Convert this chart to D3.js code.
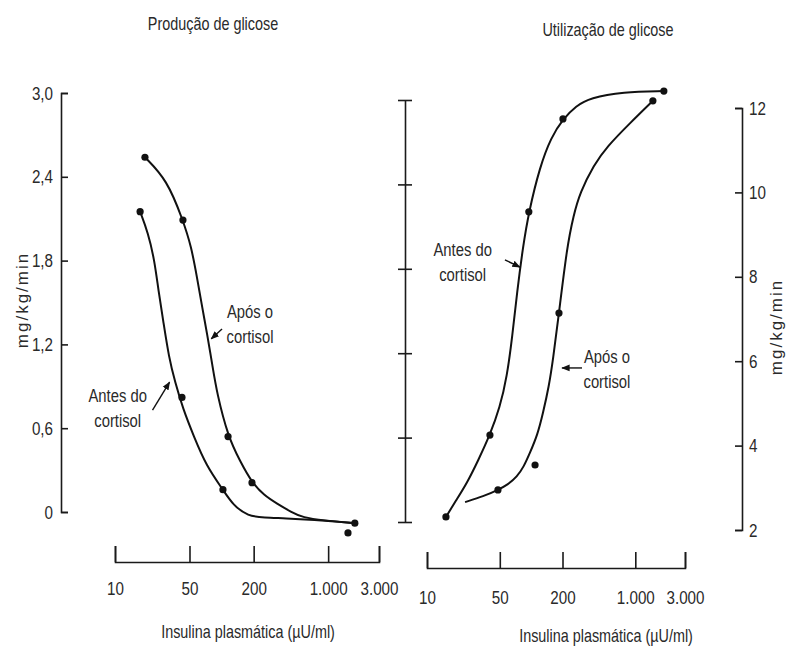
<!DOCTYPE html>
<meta charset="utf-8">
<style>
body {
    margin: 0px;
    background: white;
    overflow: hidden;
}
text {
  font-family: "Liberation Sans", Arial, sans-serif;
  fill: #2a2a2a;
}
.axis path, .axis line {
  stroke: #1a1a1a;
  stroke-width: 1.6px;
}
.curve {
  fill: none;
  stroke: #111;
  stroke-width: 2px;
}
.dot {
  fill: #111;
}
</style>
<body>
<script src="https://d3js.org/d3.v7.min.js"></script>
<script>
var width = 788,
    height = 648;

// ticks of the insulin axis (log)
var xTicks = [10, 50, 200, 1000, 3000];
var xTickLabels = ["10", "50", "200", "1.000", "3.000"];

// Produção de glicose (mg/kg/min)
var prodTicks = [0, 0.6, 1.2, 1.8, 2.4, 3.0];
var prodTickLabels = ["0", "0,6", "1,2", "1,8", "2,4", "3,0"];
var prodAntesPts = [[17.2, 2.15], [42.5, 0.82], [103, 0.16], [1535, -0.15]];
var prodAposPts = [[19.1, 2.54], [43.4, 2.09], [115, 0.54], [193, 0.21], [1780, -0.08]];
var prodAntesCurve = [[17.2, 2.15], [20.4, 2.0], [23.5, 1.8], [25.5, 1.59], [28.6, 1.35],
    [32, 1.11], [36.6, 0.93], [43.4, 0.74], [55, 0.54], [72, 0.33], [103, 0.16], [128, 0.05],
    [177, -0.03], [250, -0.04], [400, -0.045], [700, -0.055], [1780, -0.08]];
var prodAposCurve = [[19.1, 2.54], [30.7, 2.38], [43.4, 2.09], [52, 1.9], [58.8, 1.68],
    [66, 1.46], [73, 1.28], [82, 1.05], [90.5, 0.85], [115, 0.54], [150, 0.36], [193, 0.21],
    [250, 0.12], [331, 0.06], [450, 0.0], [580, -0.04], [900, -0.06], [1780, -0.08]];

// Utilização de glicose (mg/kg/min)
var utilTicks = [2, 4, 6, 8, 10, 12];
var utilAntesPts = [[15.2, 2.31], [40.2, 4.25], [95, 9.54], [202, 11.74], [1880, 12.4]];
var utilAposPts = [[48, 2.95], [109, 3.54], [185, 7.14], [1475, 12.17]];
var utilAntesCurve = [[15.2, 2.31], [19, 2.7], [24.2, 3.11], [31, 3.65], [40.2, 4.25], [50, 4.9],
    [58.6, 5.63], [66, 6.6], [73.1, 7.62], [83.4, 8.71], [95, 9.54], [121, 10.6], [155, 11.3],
    [202, 11.74], [270, 12.05], [367, 12.24], [760, 12.38], [1880, 12.4]];
var utilAposCurve = [[23.2, 2.66], [35, 2.8], [48, 2.95], [60, 3.08], [73, 3.26], [85, 3.5],
    [97, 3.82], [115, 4.25], [130, 4.77], [148, 5.4], [162, 6.03], [185, 7.14], [221, 8.71],
    [255, 9.45], [294, 9.99], [400, 10.65], [533, 11.08], [888, 11.64], [1475, 12.17]];

// middle unlabelled scale
var midTicks = [0, 1, 2, 3, 4, 5];

// curve labels: text, anchor [x, y], arrow tail and tip, in data units
var prodLabels = [
    {lines: ["Após o", "cortisol"], at: [185, 1.39], tail: [101, 1.31], tip: [80, 1.24]},
    {lines: ["Antes do", "cortisol"], at: [10.6, 0.79], tail: [22.5, 0.73], tip: [32.5, 0.93]}
];
var utilLabels = [
    {lines: ["Antes do", "cortisol"], at: [22, 8.5], tail: [56, 8.4], tip: [78, 8.23]},
    {lines: ["Após o", "cortisol"], at: [534, 5.95], tail: [308, 5.84], tip: [198, 5.84]}
];

var svg = d3.select("body").append("svg")
    .attr("width", width)
    .attr("height", height);

svg.append("defs").append("marker")
    .attr("id", "head")
    .attr("viewBox", "0 0 10 10")
    .attr("refX", 9).attr("refY", 5)
    .attr("markerWidth", 6).attr("markerHeight", 6)
    .attr("orient", "auto")
  .append("path")
    .attr("d", "M0,1L10,5L0,9Z")
    .attr("fill", "#111");

var xProd = d3.scaleLog().domain([10, 3000]).range([115, 379]);
var yProd = d3.scaleLinear().domain([0, 3]).range([512, 93]);
var xUtil = d3.scaleLog().domain([10, 3000]).range([427, 685]);
var yUtil = d3.scaleLinear().domain([2, 12]).range([530, 108]);
var yMid = d3.scaleLinear().domain([0, 5]).range([522, 100]);

function fmtX(d) { return xTickLabels[xTicks.indexOf(d)]; }

// the scan uses a narrow face: squeeze text horizontally round its anchor
function condense(sel, k) {
    sel.each(function() {
        var t = d3.select(this),
            x = +t.attr("x") || 0,
            y = +t.attr("y") || 0;
        t.attr("transform", (t.attr("transform") || "") +
            " translate(" + x + "," + y + ") scale(" + k + ",1) translate(" + (-x) + "," + (-y) + ")");
    });
}

// axes
svg.append("g").attr("class", "axis")
    .attr("transform", "translate(61,0)")
    .call(d3.axisLeft(yProd).tickValues(prodTicks).tickSizeOuter(0).tickSize(-7).tickPadding(8)
        .tickFormat(function(d, i) { return prodTickLabels[i]; }))
    .selectAll("text").style("font-size", "19px").call(condense, 0.8);

svg.append("g").attr("class", "axis")
    .attr("transform", "translate(742,0)")
    .call(d3.axisRight(yUtil).tickValues(utilTicks).tickSizeOuter(0).tickSize(-7).tickPadding(7))
    .selectAll("text").style("font-size", "19px").call(condense, 0.8);

var mid = svg.append("g").attr("class", "axis")
    .attr("transform", "translate(405,0)")
    .call(d3.axisLeft(yMid).tickValues(midTicks).tickSizeOuter(0).tickFormat(""));
mid.selectAll(".tick line").attr("x1", 7).attr("x2", -7);

svg.append("g").attr("class", "axis")
    .attr("transform", "translate(0,562)")
    .call(d3.axisBottom(xProd).tickValues(xTicks).tickSizeOuter(0).tickSize(-16).tickPadding(20)
        .tickFormat(fmtX))
    .selectAll("text").style("font-size", "19px").call(condense, 0.8);

svg.append("g").attr("class", "axis")
    .attr("transform", "translate(0,568)")
    .call(d3.axisBottom(xUtil).tickValues(xTicks).tickSizeOuter(0).tickSize(-16).tickPadding(23)
        .tickFormat(fmtX))
    .selectAll("text").style("font-size", "19px").call(condense, 0.8);

svg.selectAll(".axis .domain").attr("fill", "none");

// curves and points
function panel(x, y, curves, points, labels) {
    var line = d3.line()
        .x(function(d) { return x(d[0]); })
        .y(function(d) { return y(d[1]); })
        .curve(d3.curveBasis);

    svg.append("g").selectAll("path")
        .data(curves)
        .enter().append("path")
        .attr("class", "curve")
        .attr("d", line);

    svg.append("g").selectAll("circle")
        .data(d3.merge(points))
        .enter().append("circle")
        .attr("class", "dot")
        .attr("r", 3.6)
        .attr("cx", function(d) { return x(d[0]); })
        .attr("cy", function(d) { return y(d[1]); });

    labels.forEach(function(l) {
        var t = svg.append("text")
            .attr("text-anchor", "middle")
            .style("font-size", "19px")
            .attr("x", x(l.at[0]))
            .attr("y", y(l.at[1]));
        t.selectAll("tspan").data(l.lines).enter().append("tspan")
            .attr("x", x(l.at[0]))
            .attr("dy", function(d, i) { return i ? 25 : 0; })
            .text(function(d) { return d; });
        t.call(condense, 0.78);
        svg.append("line")
            .attr("x1", x(l.tail[0])).attr("y1", y(l.tail[1]))
            .attr("x2", x(l.tip[0])).attr("y2", y(l.tip[1]))
            .attr("stroke", "#111").attr("stroke-width", 1.4)
            .attr("marker-end", "url(#head)");
    });
}

panel(xProd, yProd, [prodAntesCurve, prodAposCurve], [prodAntesPts, prodAposPts], prodLabels);
panel(xUtil, yUtil, [utilAntesCurve, utilAposCurve], [utilAntesPts, utilAposPts], utilLabels);

// titles
function label(txt, x, y, size, rot) {
    return svg.append("text")
        .attr("text-anchor", "middle")
        .attr("transform", "translate(" + x + "," + y + ")" + (rot ? " rotate(-90)" : ""))
        .style("font-size", size + "px")
        .text(txt);
}
label("Produção de glicose", 213, 30, 18).call(condense, 0.8);
label("Utilização de glicose", 608, 36, 18).call(condense, 0.8);
label("Insulina plasmática (µU/ml)", 248, 638, 18).call(condense, 0.8);
label("Insulina plasmática (µU/ml)", 606, 642, 18).call(condense, 0.8);
label("mg/kg/min", 28, 300, 17, true).style("letter-spacing", "2px");
label("mg/kg/min", 782, 327, 17, true).style("letter-spacing", "2px");
</script>
</body>
</html>
